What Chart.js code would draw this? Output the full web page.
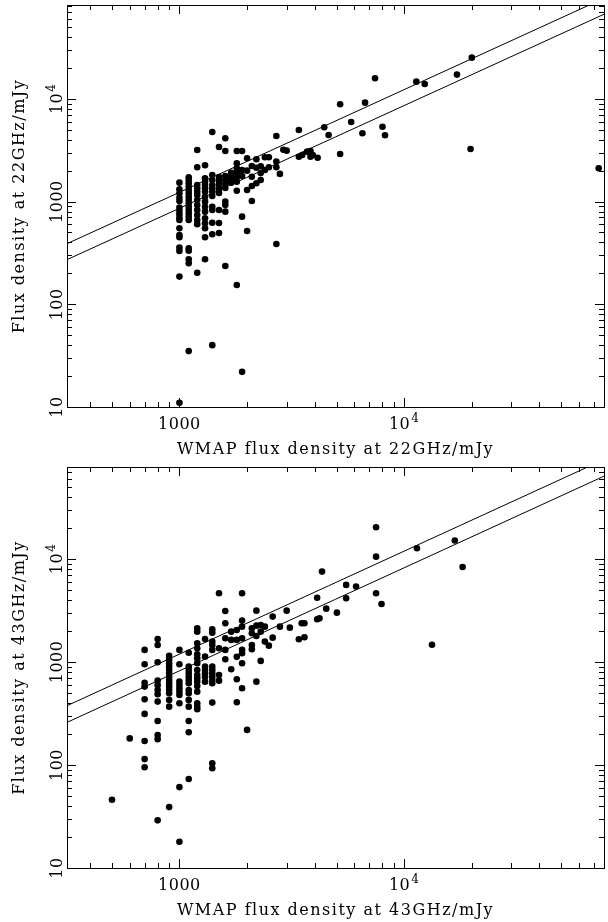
<!DOCTYPE html>
<html>
<head>
<meta charset="utf-8">
<script src="https://cdn.jsdelivr.net/npm/chart.js@4"></script>
<style>
body { margin: 0; background: #fff; }
canvas { display: block; }
</style>
</head>
<body>
<canvas id="chart22" width="608" height="461"></canvas>
<canvas id="chart43" width="608" height="461"></canvas>
<script>
// 22 GHz panel: WMAP flux (x) vs measured flux (y), mJy
const wmap22 = [
  1000, 1000, 1000, 1000, 1000, 1000, 1000, 1000, 1000, 1000, 1000, 1000, 1000, 1000, 1000, 1000, 1000,
  1100, 1100, 1100, 1100, 1100, 1100, 1100, 1100, 1100, 1100, 1100, 1100, 1100, 1100, 1100, 1100, 1100, 1100, 1100,
  1200, 1200, 1200, 1200, 1200, 1200, 1200, 1200, 1200, 1200, 1200, 1200, 1200,
  1300, 1300, 1300, 1300, 1300, 1300, 1300, 1300, 1300, 1300, 1300, 1300, 1300, 1300, 1300,
  1400, 1400, 1400, 1400, 1400, 1400, 1400, 1400, 1400, 1400, 1400, 1400,
  1500, 1500, 1500, 1500, 1500, 1500, 1500, 1500, 1500,
  1600, 1600, 1600, 1600, 1600, 1600, 1600, 1600, 1600, 1600,
  1700, 1700, 1700, 1700,
  1800, 1800, 1800, 1800, 1800, 1800, 1800, 1800,
  1900, 1900, 1900, 1900, 1900,
  2000, 2000, 2000, 2000,
  2100, 2100, 2100, 2100,
  2200, 2200, 2200,
  2300, 2300, 2300,
  2400, 2400,
  2500, 2500,
  2700, 2700, 2700, 2700,
  2800, 2900, 3000,
  3400, 3400, 3520, 3700, 3830, 3830, 3920, 4120, 4410, 4610, 5190, 5190,
  5810, 6520, 6700, 7420, 8010, 8220, 11330, 12350, 17180, 19740, 20000, 73400
];
const flux22 = [
  1528, 1318, 1205, 1091, 1014, 873, 810, 752, 697, 662, 549, 473, 449, 356, 330, 186, 11,
  1724, 1622, 1507, 1396, 1297, 1205, 1116, 1037, 962, 891, 828, 769, 713, 662, 351, 332, 274, 251, 35,
  3178, 2158, 1452, 1346, 1247, 1159, 1037, 927, 828, 741, 662, 601, 203,
  2255, 1686, 1563, 1452, 1346, 1247, 1116, 998, 891, 798, 688, 615, 549, 449, 274,
  4760, 1816, 1622, 1452, 1346, 1247, 1133, 891, 828, 623, 481, 40,
  3404, 1737, 1586, 1452, 1327, 1213, 828, 619, 495,
  4131, 3111, 1776, 1622, 1483, 1356, 998, 927, 798, 236,
  1910, 1776, 1649, 1528,
  3111, 2360, 2110, 1910, 1724, 1563, 1276, 154,
  3111, 2030, 1776, 713, 22,
  2640, 2000, 1297, 517,
  2222, 1747, 1419, 1014,
  2582, 2138, 1507,
  2205, 1893, 1622,
  2700, 2030,
  2700, 2158,
  4355, 2447, 2158, 386,
  1860, 3200, 3130,
  4980, 2735, 2844, 3062, 3111, 2735, 2844, 2673, 5284, 4446, 8850, 2905,
  5957, 4621, 9190, 15890, 5358, 4423, 14710, 13960, 17220, 3252, 25180, 2108
];

// 43 GHz panel
const wmap43 = [
  501, 601,
  700, 700, 700, 700, 700, 700, 700, 700, 700,
  800, 800, 800, 800, 800, 800, 800, 800, 800, 800, 800, 800,
  900, 900, 900, 900, 900, 900, 900, 900, 900, 900, 900, 900, 900, 900, 900,
  1000, 1000, 1000, 1000, 1000, 1000, 1000, 1000, 1000, 1000,
  1100, 1100, 1100, 1100, 1100, 1100, 1100, 1100, 1100, 1100, 1100, 1100, 1100, 1100,
  1200, 1200, 1200, 1200, 1200, 1200, 1200, 1200, 1200, 1200, 1200, 1200, 1200, 1200, 1200, 1200,
  1300, 1300, 1300, 1300, 1300, 1300, 1300,
  1400, 1400, 1400, 1400, 1400, 1400, 1400, 1400, 1400, 1400, 1400, 1400, 1400, 1400,
  1500, 1500, 1500, 1500,
  1600, 1600, 1600, 1600, 1600,
  1700, 1700, 1700,
  1800, 1800, 1800, 1800, 1800,
  1900, 1900, 1900, 1900, 1900, 1900, 1900, 1900,
  2000,
  2100, 2100, 2100, 2100,
  2200, 2200, 2200, 2200,
  2300, 2300, 2300,
  2400, 2400,
  2500,
  2600, 2600,
  2800, 3000, 3100, 3400, 3500, 3600, 3600,
  4100, 4100, 4200, 4310, 4500, 5020, 5520, 5520, 6110,
  7500, 7500, 7500, 7930, 11400, 13300, 16800, 18200
];
const flux43 = [
  46, 181,
  1309, 950, 629, 576, 434, 313, 171, 114, 95,
  1671, 1462, 993, 658, 595, 535, 485, 412, 267, 195, 178, 29,
  1150, 1050, 971, 900, 836, 776, 719, 669, 621, 576, 535, 497, 428, 368, 39,
  1309, 950, 644, 597, 556, 515, 478, 397, 61, 18,
  1230, 900, 836, 776, 719, 669, 621, 535, 497, 428, 368, 267, 208, 73,
  2124, 1969, 1520, 1358, 1187, 1086, 971, 836, 748, 695, 644, 585, 515, 397, 368, 347,
  1671, 1125, 900, 836, 776, 719, 644,
  2076, 1924, 1575, 1462, 1309, 900, 836, 776, 719, 669, 621, 403, 104, 93,
  4645, 1358, 748, 658,
  3126, 2377, 1698, 1309, 1062,
  1969, 1636, 849,
  2045, 1636, 1120, 679, 406,
  4645, 2518, 2201, 1698, 1309, 1214, 971, 556,
  219,
  2124, 1898, 1462, 1327,
  3148, 2250, 1786, 644,
  2286, 1969, 1023,
  2201, 1575,
  1439,
  2754, 1721,
  2201, 3148, 2153, 1660, 2377, 2377, 1736,
  4200, 2600, 2650, 7530, 3291, 3010, 5595, 4150, 5387,
  20300, 10520, 4645, 3656, 12700, 1470, 15070, 8360
];

// the two straight reference lines (end points)
const lineX = [316, 77500];
const upper22 = [389, 95300];
const lower22 = [272, 66650];
const upper43 = [376, 92200];
const lower43 = [259, 63550];

const xRange = [316, 77500];
const yRange22 = [10, 82000];
const yRange43 = [10, 78000];

const xLabelValues = [1000, 10000];
const xLabelTexts = ['1000', '10^4'];
const yLabelValues = [10, 100, 1000, 10000];
const yLabelTexts = ['10', '100', '1000', '10^4'];
const mantissas = [1, 2, 3, 4, 5, 6, 7, 8, 9];
const decades = [10, 100, 1000, 10000];

const FONT = '"DejaVu Serif", serif';

function drawPowerText(ctx, text, x, y) {
  const parts = text.split('^');
  ctx.textAlign = 'left';
  ctx.textBaseline = 'alphabetic';
  ctx.letterSpacing = '0.5px';
  ctx.font = '16px ' + FONT;
  const w0 = ctx.measureText(parts[0]).width;
  let w1 = 0;
  if (parts[1]) {
    ctx.font = '12px ' + FONT;
    w1 = ctx.measureText(parts[1]).width + 1;
  }
  const start = x - (w0 + w1) / 2;
  ctx.font = '16px ' + FONT;
  ctx.fillText(parts[0], start, y);
  if (parts[1]) {
    ctx.font = '12px ' + FONT;
    ctx.fillText(parts[1], start + w0 + 1, y - 7);
  }
}

// box, inward ticks on all four sides, labels and titles
const axesFrame = {
  id: 'axesFrame',
  afterDraw(chart, args, opts) {
    const ctx = chart.ctx;
    const a = chart.chartArea;
    const sx = chart.scales.x;
    const sy = chart.scales.y;
    ctx.save();
    ctx.strokeStyle = '#000';
    ctx.fillStyle = '#000';
    ctx.lineWidth = 1;
    ctx.strokeRect(a.left + 0.5, a.top + 0.5, a.right - a.left, a.bottom - a.top);

    ctx.beginPath();
    decades.forEach(d => mantissas.forEach(m => {
      const v = d * m;
      const len = m === 1 ? 9 : 5;
      if (v > sx.min && v < sx.max) {
        const px = Math.round(sx.getPixelForValue(v)) + 0.5;
        ctx.moveTo(px, a.bottom); ctx.lineTo(px, a.bottom - len);
        ctx.moveTo(px, a.top); ctx.lineTo(px, a.top + len);
      }
      if (v > sy.min && v < sy.max) {
        const py = Math.round(sy.getPixelForValue(v)) + 0.5;
        ctx.moveTo(a.left, py); ctx.lineTo(a.left + len, py);
        ctx.moveTo(a.right, py); ctx.lineTo(a.right - len, py);
      }
    }));
    ctx.stroke();

    xLabelValues.forEach((v, i) => {
      drawPowerText(ctx, xLabelTexts[i], sx.getPixelForValue(v), a.bottom + 22);
    });
    yLabelValues.forEach((v, i) => {
      ctx.save();
      ctx.translate(62, sy.getPixelForValue(v));
      ctx.rotate(-Math.PI / 2);
      drawPowerText(ctx, yLabelTexts[i], 0, 0);
      ctx.restore();
    });

    ctx.font = '16px ' + FONT;
    ctx.letterSpacing = '1.5px';
    ctx.textAlign = 'center';
    ctx.textBaseline = 'alphabetic';
    ctx.fillText(opts.xTitle, (a.left + a.right) / 2, a.bottom + 47);
    ctx.save();
    ctx.translate(24, (a.top + a.bottom) / 2);
    ctx.rotate(-Math.PI / 2);
    ctx.fillText(opts.yTitle, 0, 0);
    ctx.restore();
    ctx.restore();
  }
};

function makePanel(id, wmap, flux, upper, lower, yRange, padTop, xTitle, yTitle) {
  const points = [];
  for (let i = 0; i < Math.min(wmap.length, flux.length); i++) {
    points.push({ x: wmap[i], y: flux[i] });
  }
  const lineStyle = { type: 'line', borderColor: '#000', borderWidth: 1, pointRadius: 0, fill: false };
  new Chart(document.getElementById(id), {
    type: 'scatter',
    data: {
      datasets: [
        { data: points, pointRadius: 3.3, pointBackgroundColor: '#000', pointBorderWidth: 0 },
        Object.assign({ data: [{ x: lineX[0], y: upper[0] }, { x: lineX[1], y: upper[1] }] }, lineStyle),
        Object.assign({ data: [{ x: lineX[0], y: lower[0] }, { x: lineX[1], y: lower[1] }] }, lineStyle)
      ]
    },
    options: {
      responsive: false,
      animation: false,
      layout: { padding: { left: 67, right: 1, top: padTop, bottom: 54 } },
      plugins: {
        legend: { display: false },
        tooltip: { enabled: false },
        axesFrame: { xTitle: xTitle, yTitle: yTitle }
      },
      scales: {
        x: { type: 'logarithmic', min: xRange[0], max: xRange[1], display: false },
        y: { type: 'logarithmic', min: yRange[0], max: yRange[1], display: false }
      }
    },
    plugins: [axesFrame]
  });
}

makePanel('chart22', wmap22, flux22, upper22, lower22, yRange22, 5,
  'WMAP flux density at 22GHz/mJy', 'Flux density at 22GHz/mJy');
makePanel('chart43', wmap43, flux43, upper43, lower43, yRange43, 6,
  'WMAP flux density at 43GHz/mJy', 'Flux density at 43GHz/mJy');
</script>
</body>
</html>
